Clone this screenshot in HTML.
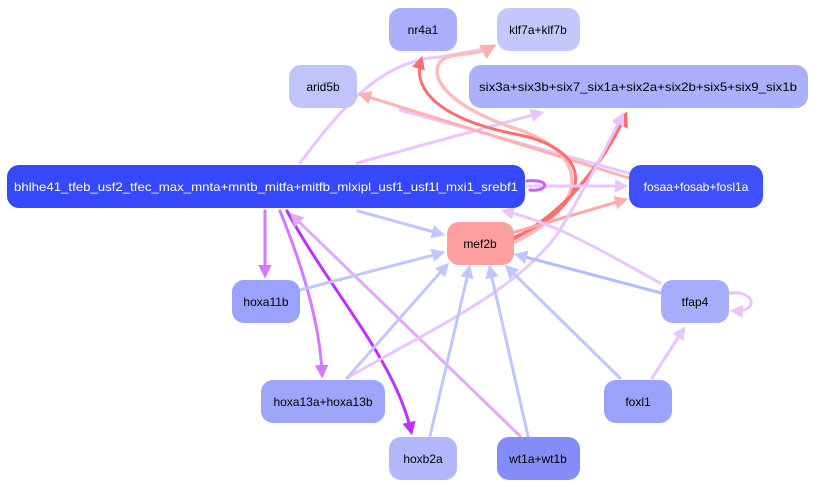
<!DOCTYPE html>
<html><head><meta charset="utf-8"><style>
body{margin:0;background:#fff;width:815px;height:489px;overflow:hidden}
svg{display:block}
text{font-family:"Liberation Sans",sans-serif;font-size:12px;text-anchor:middle;dominant-baseline:central}
</style></head><body>
<svg width="815" height="489" viewBox="0 0 815 489" xmlns="http://www.w3.org/2000/svg">
<defs>
<marker id="mR" markerWidth="4.5" markerHeight="4.5" refX="3" refY="2.25" orient="auto" markerUnits="strokeWidth"><path d="M0,0L4.5,2.25L0,4.5z" fill="#ff6e6e"/></marker>
<marker id="mP" markerWidth="4.5" markerHeight="4.5" refX="3" refY="2.25" orient="auto" markerUnits="strokeWidth"><path d="M0,0L4.5,2.25L0,4.5z" fill="#ffb0b0"/></marker>
<marker id="mL" markerWidth="4.5" markerHeight="4.5" refX="3" refY="2.25" orient="auto" markerUnits="strokeWidth"><path d="M0,0L4.5,2.25L0,4.5z" fill="#e8c6ff"/></marker>
<marker id="mB" markerWidth="4.5" markerHeight="4.5" refX="3" refY="2.25" orient="auto" markerUnits="strokeWidth"><path d="M0,0L4.5,2.25L0,4.5z" fill="#c2c6ff"/></marker>
<marker id="mV" markerWidth="4.5" markerHeight="4.5" refX="3" refY="2.25" orient="auto" markerUnits="strokeWidth"><path d="M0,0L4.5,2.25L0,4.5z" fill="#d47aff"/></marker>
<marker id="mD" markerWidth="4.5" markerHeight="4.5" refX="3" refY="2.25" orient="auto" markerUnits="strokeWidth"><path d="M0,0L4.5,2.25L0,4.5z" fill="#bb33ff"/></marker>
<marker id="mW" markerWidth="4.5" markerHeight="4.5" refX="3" refY="2.25" orient="auto" markerUnits="strokeWidth"><path d="M0,0L4.5,2.25L0,4.5z" fill="#e2aaf5"/></marker>
</defs>
<g fill="none" stroke-linecap="round">
<path d="M300,163 C340,110 380,60 440,57 L490,48" stroke="#e8c6ff" stroke-width="3"/>
<path d="M357,163 L540,113" stroke="#e8c6ff" stroke-width="3" marker-end="url(#mL)"/>
<path d="M400,110 L628,173" stroke="#e8c6ff" stroke-width="3"/>
<path d="M629,178 L362,95" stroke="#ffb0b0" stroke-width="3" marker-end="url(#mP)"/>
<path d="M515,242 C590,205 590,155 520,130 C440,105 425,70 445,58 C460,52 475,56 492,47" stroke="#ffbcbc" stroke-width="3.5" marker-end="url(#mP)"/>
<path d="M515,237 C600,200 590,150 520,135 C440,120 412,90 421,60" stroke="#ff6e6e" stroke-width="3" marker-end="url(#mR)"/>
<path d="M515,238 C560,215 600,170 625,116" stroke="#ff6e6e" stroke-width="3.5" marker-end="url(#mR)"/>
<path d="M515,232 L624,200" stroke="#ffa8a8" stroke-width="3" marker-end="url(#mP)"/>
<path d="M528,186 L624,186" stroke="#e8c6ff" stroke-width="3" marker-end="url(#mL)"/>
<path d="M527,181 C550,178 550,192 530,190" stroke="#c860ff" stroke-width="3"/>
<path d="M358,211 L441,234" stroke="#c2c6ff" stroke-width="3" marker-end="url(#mB)"/>
<path d="M265,211 L265,274" stroke="#d47aff" stroke-width="3" marker-end="url(#mV)"/>
<path d="M280,211 C300,260 320,320 322,374" stroke="#d47aff" stroke-width="3" marker-end="url(#mV)"/>
<path d="M287,211 C330,290 395,360 411,431" stroke="#bb33ff" stroke-width="3" marker-end="url(#mD)"/>
<path d="M520,436 L293,216" stroke="#e2aaf5" stroke-width="3" marker-end="url(#mW)"/>
<path d="M660,283 C600,250 560,225 505,211" stroke="#e8c6ff" stroke-width="3" marker-end="url(#mL)"/>
<path d="M347,378 C430,330 520,290 560,230 C590,180 610,140 622,116" stroke="#e8c6ff" stroke-width="3" marker-end="url(#mL)"/>
<path d="M300,290 L441,253" stroke="#c2c6ff" stroke-width="3" marker-end="url(#mB)"/>
<path d="M347,378 L446,266" stroke="#c2c6ff" stroke-width="3" marker-end="url(#mB)"/>
<path d="M430,436 L469,269" stroke="#c2c6ff" stroke-width="3" marker-end="url(#mB)"/>
<path d="M528,436 L490,269" stroke="#c2c6ff" stroke-width="3" marker-end="url(#mB)"/>
<path d="M620,378 L508,268" stroke="#c2c6ff" stroke-width="3" marker-end="url(#mB)"/>
<path d="M661,293 L518,255" stroke="#b5bbff" stroke-width="3" marker-end="url(#mB)"/>
<path d="M652,378 L683,330" stroke="#e8c6ff" stroke-width="3" marker-end="url(#mL)"/>
<path d="M730,293 C755,290 760,312 734,311" stroke="#e8c6ff" stroke-width="3" marker-end="url(#mL)"/>
</g>
<g>
<rect x="389" y="8" width="68" height="43" rx="12" fill="#aab0fb"/><text x="423" y="30">nr4a1</text>
<rect x="497" y="8" width="83" height="43" rx="12" fill="#c5c8fc"/><text x="538" y="30">klf7a+klf7b</text>
<rect x="289" y="65" width="68" height="43" rx="12" fill="#c0c4fb"/><text x="323" y="87">arid5b</text>
<rect x="469" y="65" width="339" height="43" rx="12" fill="#aab0fb"/><text x="638" y="87" textLength="318" lengthAdjust="spacingAndGlyphs">six3a+six3b+six7_six1a+six2a+six2b+six5+six9_six1b</text>
<rect x="7" y="165" width="518" height="43" rx="12" fill="#3548fc"/><text x="266" y="187" fill="#fff" textLength="504" lengthAdjust="spacingAndGlyphs">bhlhe41_tfeb_usf2_tfec_max_mnta+mntb_mitfa+mitfb_mlxipl_usf1_usf1l_mxi1_srebf1</text>
<rect x="629" y="165" width="134" height="43" rx="12" fill="#3d50fc"/><text x="696" y="187" fill="#fff">fosaa+fosab+fosl1a</text>
<rect x="447" y="222" width="67" height="43" rx="12" fill="#ffa0a0"/><text x="480" y="244">mef2b</text>
<rect x="232" y="280" width="68" height="43" rx="12" fill="#9aa3fb"/><text x="266" y="302">hoxa11b</text>
<rect x="661" y="280" width="68" height="43" rx="12" fill="#a6adfb"/><text x="695" y="302">tfap4</text>
<rect x="261" y="380" width="124" height="43" rx="12" fill="#9ea6fb"/><text x="323" y="402">hoxa13a+hoxa13b</text>
<rect x="604" y="380" width="68" height="43" rx="12" fill="#9aa3fb"/><text x="638" y="402">foxl1</text>
<rect x="389" y="437" width="68" height="43" rx="12" fill="#b3b8fc"/><text x="423" y="459">hoxb2a</text>
<rect x="497" y="437" width="83" height="43" rx="12" fill="#838cf9"/><text x="538" y="459">wt1a+wt1b</text>
</g>
</svg>
</body></html>
